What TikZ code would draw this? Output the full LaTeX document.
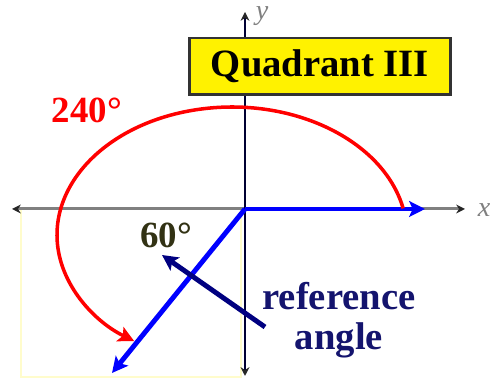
\documentclass[tikz,border=0pt]{standalone}
\usepackage{fontspec}
\setmainfont{Liberation Serif}
\usetikzlibrary{arrows.meta, positioning}
\definecolor{refnavy}{RGB}{0,0,128}
\definecolor{reftext}{RGB}{20,20,110}
\definecolor{sixty}{RGB}{50,50,20}

\begin{document}
\begin{tikzpicture}[x=0.02cm, y=0.02cm,
  axis/.style={line width=1.7pt, {Stealth[length=5pt,width=5pt,color=black!85]}-{Stealth[length=5pt,width=5pt,color=black!85]}},
  ray/.style={blue, line width=2.8pt, -{Stealth[length=9pt,width=9pt,inset=2pt]}},
  turn/.style={red, line width=2pt, -{Stealth[length=9pt,width=9pt,inset=2pt]}},
  lbl/.style={font=\bfseries\fontsize{21}{20}\selectfont, inner sep=0pt, align=center}]
  \useasboundingbox (0,0) rectangle (491,378);
  % faint frame of quadrant III
  \draw[yellow!20, line width=1pt] (21,1) rectangle (241,169);
  \coordinate (O) at (245,169);
  \coordinate (xl) at (12,169);
  \coordinate (xr) at (465,169);
  \coordinate (yb) at (245,2);
  \coordinate (yt) at (245,366);
  \draw[axis, gray] (xl) -- (xr);
  \draw[axis, black!80!blue] (yb) -- (yt);
  \node[gray, font=\itshape\fontsize{16}{16}\selectfont] (xlab) at (484,168) {x};
  \node[gray, font=\itshape\fontsize{16}{16}\selectfont] (ylab) at (262,362) {y};
  \node[draw=black!80, fill=yellow, line width=1.7pt, minimum width=5.24cm, minimum height=1.14cm,
    font=\bfseries\fontsize{22}{22}\selectfont] (quad) at (320,311.5) {Quadrant III};
  % sides of the angle
  \coordinate (I) at (425,169);
  \coordinate (T) at (112,5);
  \draw[ray] (O) -- (I);
  \draw[ray] (O) -- (T);
  % 240 degree turn
  \coordinate (C) at (232,143);
  \draw[turn] (C) ++(12:3.5cm and 2.56cm) arc[start angle=12, end angle=236, x radius=3.5cm, y radius=2.56cm];
  \node[lbl, red] (big) at (87,268) {240°};
  \node[lbl, text=sixty] (small) at (166,143) {60°};
  \node[lbl, text=reftext, font=\bfseries\fontsize{22}{23}\selectfont] (ref) at (339,58) {reference\\angle};
  \coordinate (rs) at (265,51);
  \coordinate (re) at (162,123);
  \draw[refnavy, line width=2.8pt, -{Stealth[length=9pt,width=9pt,inset=2pt]}] (rs) -- (re);
\end{tikzpicture}
\end{document}
